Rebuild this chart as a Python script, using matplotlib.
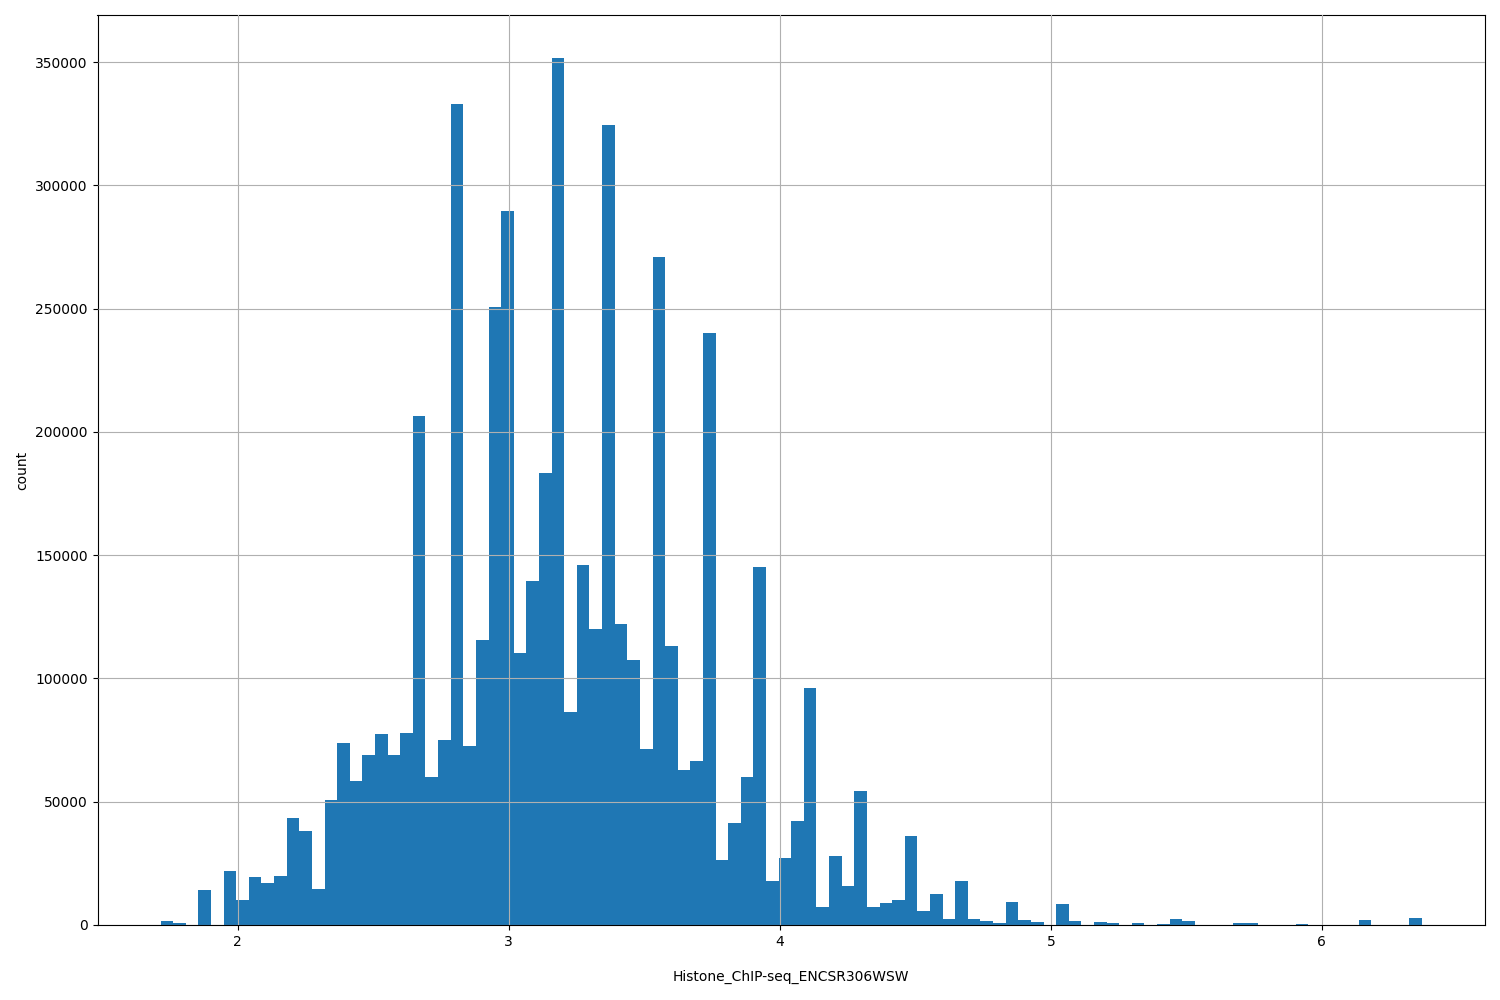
import numpy as np
import matplotlib.pyplot as plt

x_min = 1.716
x_max = 6.369
counts = [1500, 1000, 0, 14000, 0, 22000, 10000, 19500, 17000, 20000,
          43500, 38000, 14500, 50500, 74000, 58500, 69000, 77500, 69000, 78000,
          206500, 60000, 75000, 333000, 72500, 115500, 250500, 289500, 110500, 139500,
          183500, 351500, 86500, 146000, 120000, 324500, 122000, 107500, 71500, 271000,
          113000, 63000, 66500, 240000, 26500, 41500, 60000, 145000, 18000, 27000,
          42000, 96000, 7500, 28000, 16000, 54500, 7500, 9000, 10000, 36000,
          5500, 12500, 2500, 18000, 2500, 1500, 800, 9500, 2000, 1200,
          0, 8500, 1500, 0, 1200, 700, 0, 1000, 0, 400,
          2500, 1500, 0, 0, 0, 800, 1000, 0, 0, 0,
          500, 0, 0, 0, 0, 2000, 0, 0, 0, 3000]

edges = np.linspace(x_min, x_max, len(counts) + 1)
centers = (edges[:-1] + edges[1:]) / 2

fig, ax = plt.subplots(figsize=(15, 10), dpi=100)
ax.hist(centers, bins=edges, weights=counts, color='#1f77b4')
ax.grid(True)
ax.set_axisbelow(False)
ax.set_xlabel('Histone_ChIP-seq_ENCSR306WSW', labelpad=15)
ax.set_ylabel('count')
plt.subplots_adjust(left=0.065, right=0.99, top=0.985, bottom=0.075)
plt.savefig('out.png')
